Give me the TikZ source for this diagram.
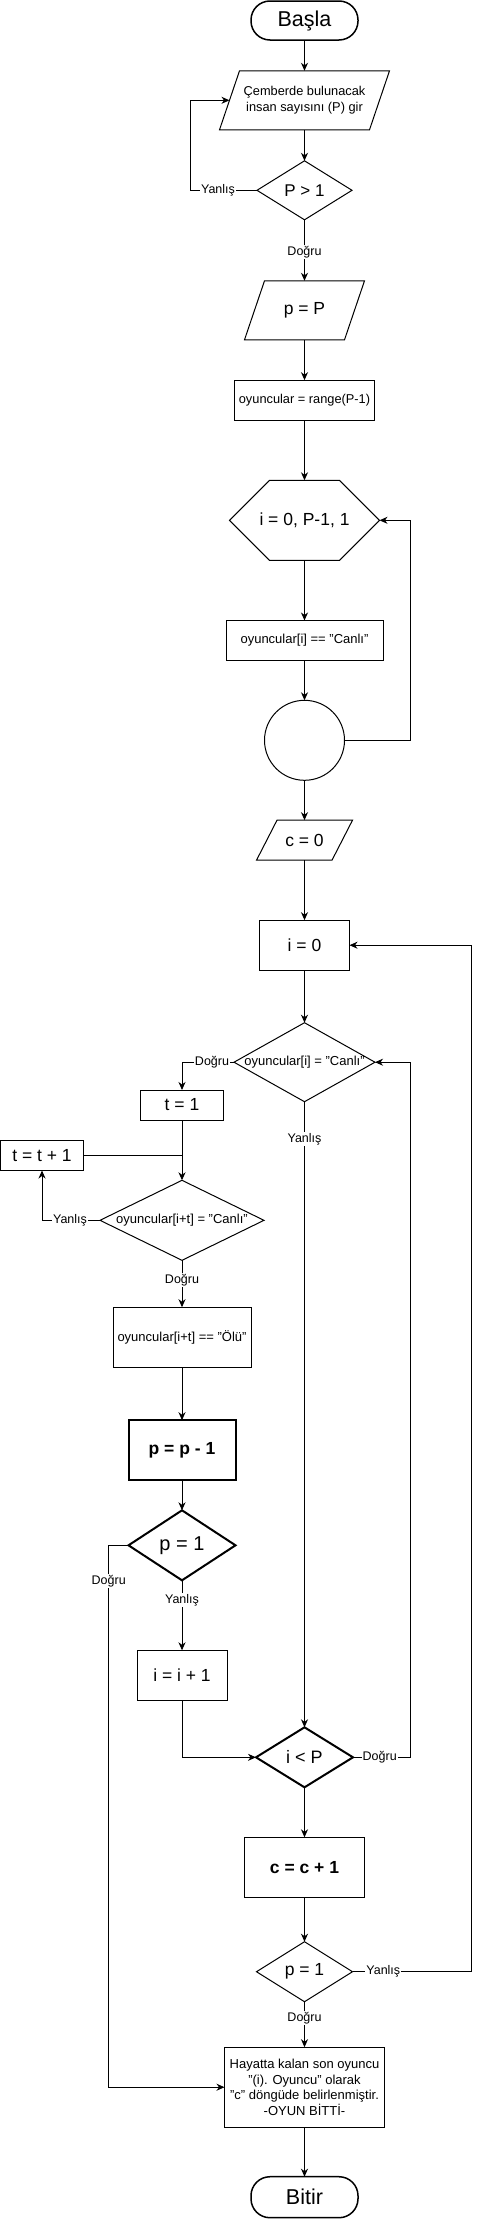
\documentclass[tikz,border=0pt]{standalone}
\usepackage{fontspec}
\setmainfont{Liberation Sans}
\usetikzlibrary{arrows.meta}
\newcommand{\paraout}[3][1pt]{\draw[line width=#1] ([xshift=#3]#2.north west) -- (#2.north east) -- ([xshift=-#3]#2.south east) -- (#2.south west) -- cycle;}
\newcommand{\dmout}[2][1pt]{\draw[line width=#1, line join=miter] (#2.north) -- (#2.east) -- (#2.south) -- (#2.west) -- cycle;}
\newcommand{\hexout}[3][1pt]{\draw[line width=#1] (#2.west) -- ([xshift=-#3]#2.north) -- ([xshift=#3]#2.north) -- (#2.east) -- ([xshift=#3]#2.south) -- ([xshift=-#3]#2.south) -- cycle;}
\tikzset{
  every node/.style={inner sep=0pt, outer sep=0pt},
  ln/.style={line width=1pt, draw=black},
  arr/.style={ln, -{Stealth[length=8pt,width=7pt,inset=2.5pt]}},
  box/.style={rectangle, draw, line width=1pt, align=center},
  ghost/.style={rectangle, align=center},
  term/.style={rectangle, draw, line width=1.5pt, rounded corners=19pt, font=\fontsize{21.5}{24}\selectfont},
  lbl/.style={fill=white, inner sep=1pt, font=\fontsize{12.5}{14}\selectfont},
  big/.style={font=\fontsize{17.5}{20}\selectfont},
  small/.style={font=\fontsize{13}{15.7}\selectfont},
}
\begin{document}
\begin{tikzpicture}[x=1pt,y=-1pt]
\useasboundingbox (0,0) rectangle (481,2219);

% ---------- nodes ----------
\node[term, minimum width=107pt, minimum height=39pt] (start) at (304.5,20.5) {Başla};
\node[ghost, minimum width=170pt, minimum height=59pt, font=\fontsize{12.8}{16.7}\selectfont] (inp) at (304.5,100.3) {Çemberde bulunacak\\insan sayısını (P) gir};
\paraout{inp}{20pt}
\node[ghost, minimum width=95pt, minimum height=59pt, font=\fontsize{17}{20}\selectfont] (d1) at (304.5,190.3) {P > 1};
\dmout{d1}
\node[ghost, big, minimum width=120pt, minimum height=59pt] (pP) at (304.5,310.3) {p = P};
\paraout{pP}{20pt}
\node[box, minimum width=140pt, minimum height=40pt, font=\fontsize{12.8}{15}\selectfont] (rng) at (304.5,400.2) {oyuncular = range(P-1)};
\node[ghost, big, minimum width=150pt, minimum height=80pt] (hex) at (304.5,520.3) {i = 0, P-1, 1};
\hexout{hex}{35pt}
\node[box, small, minimum width=157pt, minimum height=40pt] (canli) at (304.5,640.5) {oyuncular[i] == "Canlı"};
\node[circle, draw, line width=1pt, minimum size=80pt] (circ) at (304.5,740.3) {};
\node[ghost, big, minimum width=96pt, minimum height=40pt] (c0) at (304.5,840.2) {c = 0};
\paraout{c0}{20.5pt}
\node[box, big, minimum width=90pt, minimum height=50pt] (i0) at (304.5,945.2) {i = 0};
\node[ghost, small, minimum width=141pt, minimum height=79pt] (d2) at (304.5,1062.2) {oyuncular[i] = "Canlı"};
\dmout{d2}
\node[box, big, minimum width=83pt, minimum height=30pt] (t1) at (182,1105) {t = 1};
\node[box, big, minimum width=83pt, minimum height=30pt] (tt) at (42,1155.5) {t = t + 1};
\node[ghost, small, minimum width=164pt, minimum height=80pt] (d3) at (182,1220.3) {oyuncular[i+t] = "Canlı"};
\dmout{d3}
\node[box, small, minimum width=138pt, minimum height=60pt] (olu) at (182,1337.2) {oyuncular[i+t] == "Ölü"};
\node[box, line width=2pt, minimum width=107pt, minimum height=60pt, font=\fontsize{17.5}{20}\selectfont\bfseries] (pm) at (182,1450.2) {p = p - 1};
\node[ghost, minimum width=107pt, minimum height=70pt, font=\fontsize{20}{23}\selectfont] (d4) at (182,1545.3) {p = 1};
\dmout[2pt]{d4}
\node[box, big, minimum width=90pt, minimum height=50pt] (ii) at (182,1675.3) {i = i + 1};
\node[ghost, minimum width=97pt, minimum height=60pt, font=\fontsize{18}{21}\selectfont] (d5) at (304.5,1757.3) {i < P};
\dmout[2pt]{d5}
\node[box, minimum width=120pt, minimum height=60pt, font=\fontsize{17.5}{20}\selectfont\bfseries] (cc) at (304.5,1867.3) {c = c + 1};
\node[ghost, big, minimum width=96pt, minimum height=60pt] (d6) at (304.5,1971.7) {p = 1};
\dmout{d6}
\node[box, small, minimum width=160pt, minimum height=80pt] (fin) at (304.5,2087.2) {Hayatta kalan son oyuncu\\"(i). Oyuncu" olarak\\"c" döngüde belirlenmiştir.\\-OYUN BİTTİ-};
\node[term, minimum width=107pt, minimum height=41pt] (end) at (304.5,2197.2) {Bitir};

\coordinate (inpL) at ([xshift=10pt]inp.west);

% ---------- connectors ----------
\draw[arr] (start.south) -- (inp.north);
\draw[arr] (inp.south) -- (d1.north);
\draw[arr] (d1.west) -- (190,190.3) -- (190,100.3) -- (inpL);
\draw[arr] (d1.south) -- (pP.north);
\draw[arr] (pP.south) -- (rng.north);
\draw[arr] (rng.south) -- (hex.north);
\draw[arr] (hex.south) -- (canli.north);
\draw[arr] (canli.south) -- (circ.north);
\draw[arr] (circ.east) -- (410,740.3) -- (410,520.3) -- (hex.east);
\draw[arr] (circ.south) -- (c0.north);
\draw[arr] (c0.south) -- (i0.north);
\draw[arr] (i0.south) -- (d2.north);
\draw[arr] (d2.west) -- (182,1062.2) -- (t1.north);
\draw[arr] (t1.south) -- (d3.north);
\draw[ln] (tt.east) -- (182,1155.5);
\draw[arr] (d3.west) -- (42,1220.3) -- (tt.south);
\draw[arr] (d3.south) -- (olu.north);
\draw[arr] (olu.south) -- (pm.north);
\draw[arr] (pm.south) -- (d4.north);
\draw[arr] (d4.west) -- (108.7,1545.3) -- (108.7,2087.2) -- (fin.west);
\draw[arr] (d4.south) -- (ii.north);
\draw[arr] (ii.south) -- (182,1757.3) -- (d5.west);
\draw[arr] (d2.south) -- (d5.north);
\draw[arr] (d5.east) -- (410,1757.3) -- (410,1062.2) -- (d2.east);
\draw[arr] (d5.south) -- (cc.north);
\draw[arr] (cc.south) -- (d6.north);
\draw[arr] (d6.east) -- (471.3,1971.7) -- (471.3,945.2) -- (i0.east);
\draw[arr] (d6.south) -- (fin.north);
\draw[arr] (fin.south) -- (end.north);

% ---------- labels ----------
\node[lbl] (l1) at (218,190.3) {Yanlış};
\node[lbl] (l2) at (304.5,252) {Doğru};
\node[lbl] (l3) at (212,1062.2) {Doğru};
\node[lbl] (l4) at (304.5,1139) {Yanlış};
\node[lbl] (l5) at (70,1220.3) {Yanlış};
\node[lbl] (l6) at (182,1280) {Doğru};
\node[lbl] (l7) at (108.7,1581) {Doğru};
\node[lbl] (l8) at (182,1600) {Yanlış};
\node[lbl] (l9) at (379.7,1757.3) {Doğru};
\node[lbl] (l10) at (383.3,1971.7) {Yanlış};
\node[lbl] (l11) at (304.5,2017.7) {Doğru};
\end{tikzpicture}
\end{document}
